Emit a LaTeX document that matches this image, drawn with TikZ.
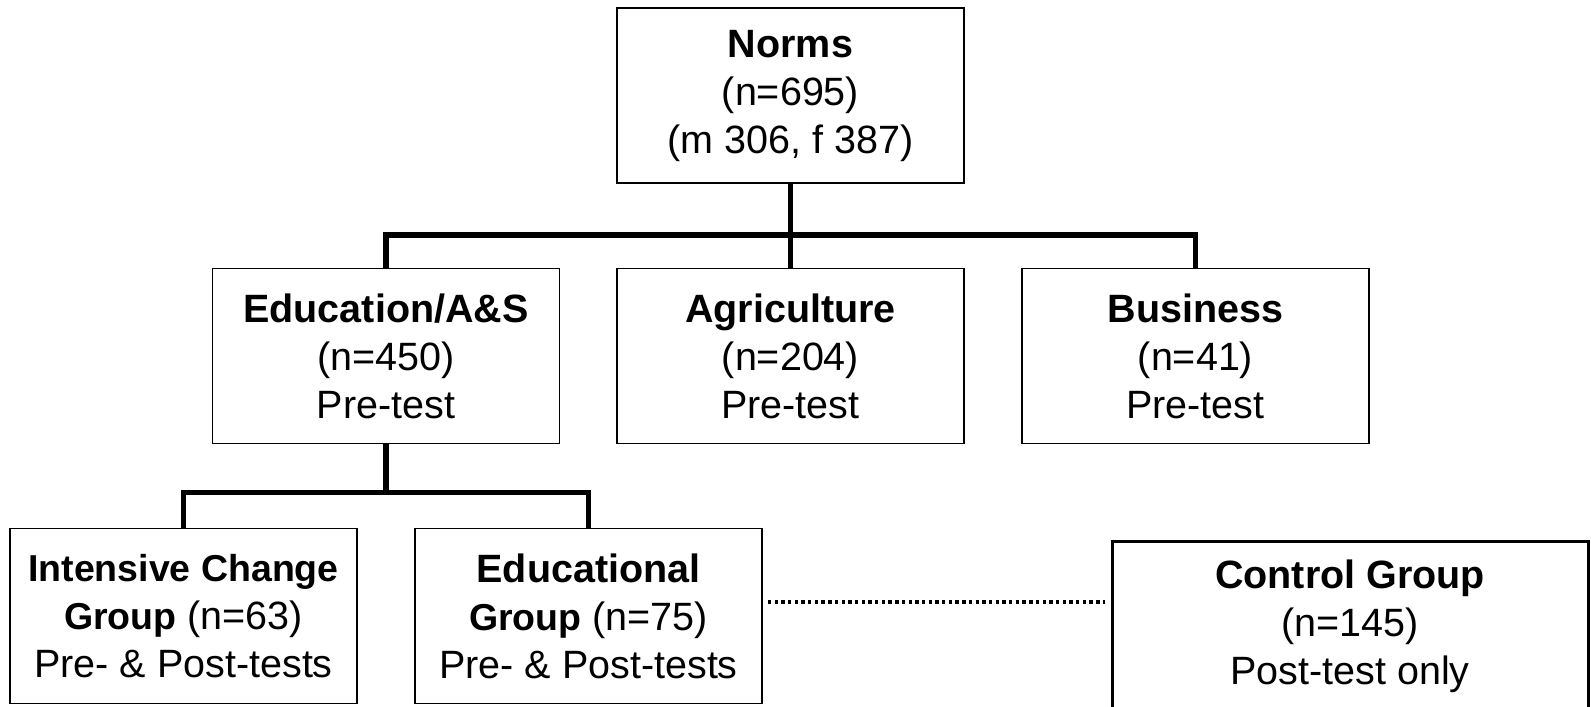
\documentclass[tikz,border=0pt]{standalone}
\usepackage{fontspec}
\setmainfont{Liberation Sans}
\newcommand{\smb}[1]{{\fontsize{37.5}{48}\selectfont\textbf{#1}}}
\begin{document}
\begin{tikzpicture}[x=1pt,y=-1pt,
  box/.style={draw=black,line width=1.6pt,minimum width=347pt,minimum height=175pt,inner sep=0pt,align=center,font=\fontsize{39.5}{48}\selectfont},
  ctrlbox/.style={box,line width=3pt,minimum width=476pt,minimum height=170pt},
  conn/.style={line width=5.5pt},
  dotline/.style={line width=3.5pt,dash pattern=on 3.4pt off 3.3pt}]
\useasboundingbox (0,0) rectangle (1591,707);
\node[box] (norms) at (790.5,95.5) {\textbf{Norms}\\(n=695)\\(m 306, f 387)};
\node[box] (edu) at (386,356) {\textbf{Education/A\&S}\\(n=450)\\Pre-test};
\node[box] (agri) at (790.5,356) {\textbf{Agriculture}\\(n=204)\\Pre-test};
\node[box] (bus) at (1195.5,356) {\textbf{Business}\\(n=41)\\Pre-test};
\node[box] (icg) at (183.5,616) {\smb{Intensive Change}\\\smb{Group} (n=63)\\Pre- \& Post-tests};
\node[box] (eg) at (588.5,616) {\textbf{Educational}\\\smb{Group} (n=75)\\Pre- \& Post-tests};
\node[ctrlbox] (ctrl) at (1350,626) {\textbf{Control Group}\\(n=145)\\Post-test only};
\coordinate (b1) at (790.5,235);
\coordinate (b2) at (386,492.5);
\coordinate (d1) at ([xshift=5pt,yshift=14pt]eg.east);
\coordinate (d2) at ([xshift=-6pt]d1 -| ctrl.west);
\draw[conn] (norms.south) -- (b1);
\draw[conn] (edu.north) |- (b1) -| (bus.north);
\draw[conn] (agri.north) -- (b1);
\draw[conn] (edu.south) -- (b2);
\draw[conn] (icg.north) |- (b2) -| (eg.north);
\draw[dotline] (d1) -- (d2);
\end{tikzpicture}
\end{document}
